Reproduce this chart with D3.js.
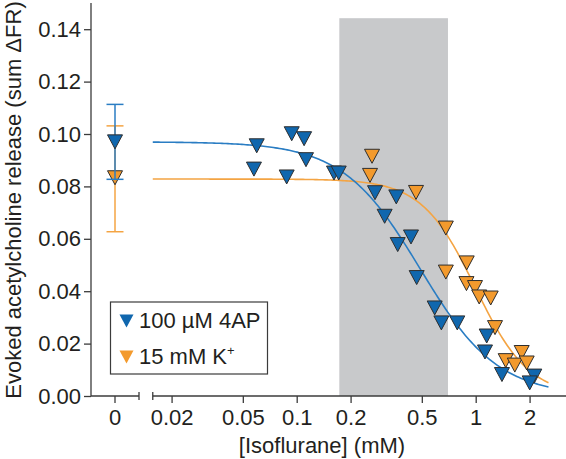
<!DOCTYPE html>
<html>
<head>
<meta charset="utf-8">
<script src="https://cdn.jsdelivr.net/npm/d3@7"></script>
<style>
  html, body { margin: 0; padding: 0; background: #fff; }
  svg { display: block; }
  text { font-family: "Liberation Sans", Arial, Helvetica, sans-serif; fill: #231f20; }
</style>
</head>
<body>
<svg id="chart" width="566" height="459"></svg>
<script>
// ---------- data ----------
const seriesNames = ["100 µM 4AP", "15 mM K"];
const xTickValues = [0.02, 0.05, 0.1, 0.2, 0.5, 1, 2];
const xTickLabels = ["0.02", "0.05", "0.1", "0.2", "0.5", "1", "2"];
const yTickValues = [0, 0.02, 0.04, 0.06, 0.08, 0.10, 0.12, 0.14];

// 4AP (blue) data points: [Isoflurane] mM, release
const blueConc = [0.0598, 0.0577, 0.0879, 0.0938, 0.110, 0.1127, 0.1616, 0.1717, 0.2738, 0.360, 0.310,
                  0.435, 0.3667, 0.468, 0.590, 0.643, 0.789, 1.152, 1.127, 1.402, 2.125, 2.003];
const blueRelease = [0.0955, 0.0866, 0.0836, 0.1001, 0.0982, 0.0902, 0.0851, 0.0851, 0.0776, 0.0760, 0.0686,
                     0.0607, 0.0578, 0.0452, 0.0336, 0.0279, 0.0279, 0.0229, 0.0168, 0.0082, 0.0076, 0.0050];

// K+ (orange) data points
const orangeConc = [0.2635, 0.2568, 0.464, 0.681, 0.681, 0.891, 0.888, 0.991, 1.046, 1.213, 1.282,
                    1.471, 1.654, 1.807, 1.927];
const orangeRelease = [0.0915, 0.0842, 0.0777, 0.0641, 0.0473, 0.0508, 0.0429, 0.0414, 0.0378, 0.0374, 0.0261,
                       0.0135, 0.0118, 0.0166, 0.0126];

// control (0 mM) mean and error-bar limits: [blue, orange]
const controlMean = [0.0970, 0.0833];
const controlLow  = [0.0827, 0.0627];
const controlHigh = [0.1113, 0.1031];

// Hill-fit parameters: [blue, orange]
const fitTop  = [0.0970, 0.0828];
const fitIC50 = [0.49, 0.995];
const fitHill = [2.0, 2.9];
const fitRange = [0.0157, 2.55];

// clinically relevant shaded range (mM) and its top (release units)
const bandRange = [0.173, 0.70];
const bandTop = 0.1442;

// ---------- layout ----------
const colors = { blue: "#1067ae", orange: "#f39a2d", blueLine: "#2a7dc3", orangeLine: "#f4a443",
                 axis: "#3b3b3b", band: "#c8c9cb", edge: "#2e2e2e" };
const svg = d3.select("#chart");

const x = d3.scaleLog().domain([0.01, 10]).range([117.7, 654.7]);
const y = d3.scaleLinear().domain([0, 0.14]).range([396, 29.2]);
const xZero = 115;
const axisX = 91;
const axisY = 396;

// shaded band
svg.append("rect")
  .attr("x", x(bandRange[0])).attr("y", y(bandTop))
  .attr("width", x(bandRange[1]) - x(bandRange[0]))
  .attr("height", y(0) - y(bandTop))
  .attr("fill", colors.band);

// ---------- axes ----------
const yAxis = d3.axisLeft(y).tickValues(yTickValues).tickFormat(d3.format(".2f")).tickSize(7).tickPadding(3);
const gy = svg.append("g").attr("transform", `translate(${axisX},0)`).call(yAxis);
gy.select(".domain").remove();
gy.append("line").attr("x1", 0).attr("x2", 0).attr("y1", 3).attr("y2", axisY)
  .attr("stroke", colors.axis).attr("stroke-width", 1.3);
gy.selectAll(".tick line").attr("stroke", colors.axis).attr("stroke-width", 1.3);
gy.selectAll(".tick text").attr("font-size", 22).attr("font-family", "Liberation Sans, Arial, sans-serif").attr("fill", "#231f20");

// x axis: log part
const xAxis = d3.axisBottom(x).tickValues(xTickValues).tickFormat((d, i) => xTickLabels[i]).tickSize(7).tickPadding(6);
const gx = svg.append("g").attr("transform", `translate(0,${axisY})`).call(xAxis);
gx.select(".domain").remove();
gx.selectAll(".tick line").attr("stroke", colors.axis).attr("stroke-width", 1.3);
gx.selectAll(".tick text").attr("font-size", 22).attr("font-family", "Liberation Sans, Arial, sans-serif").attr("fill", "#231f20");

// axis segments (broken axis)
const segs = [[axisX, 139], [x(fitRange[0]), 566]];
segs.forEach(s => {
  svg.append("line").attr("x1", s[0]).attr("x2", s[1]).attr("y1", axisY).attr("y2", axisY)
    .attr("stroke", colors.axis).attr("stroke-width", 1.3);
});
[139, x(fitRange[0])].forEach(px => {
  svg.append("line").attr("x1", px).attr("x2", px).attr("y1", axisY - 4).attr("y2", axisY + 4)
    .attr("stroke", colors.axis).attr("stroke-width", 1.3);
});
// zero tick
svg.append("line").attr("x1", xZero).attr("x2", xZero).attr("y1", axisY).attr("y2", axisY + 7)
  .attr("stroke", colors.axis).attr("stroke-width", 1.3);
svg.append("text").attr("x", xZero).attr("y", axisY + 29).attr("text-anchor", "middle")
  .attr("font-size", 22).text("0");

// axis titles
svg.append("text").attr("x", 322).attr("y", 453).attr("text-anchor", "middle")
  .attr("font-size", 22).text("[Isoflurane] (mM)");
svg.append("text").attr("transform", "translate(21,200) rotate(-90)").attr("text-anchor", "middle")
  .attr("font-size", 22).text("Evoked acetylcholine release (sum \u0394FR)");

// ---------- fitted curves ----------
const fitColors = [colors.blueLine, colors.orangeLine];
const logSpan = d3.range(0, 201).map(i => Math.exp(Math.log(fitRange[0]) + i / 200 * (Math.log(fitRange[1]) - Math.log(fitRange[0]))));
const line = d3.line().x(d => x(d[0])).y(d => y(d[1])).curve(d3.curveLinear);
[1, 0].forEach(k => {
  const pts = logSpan.map(c => [c, fitTop[k] / (1 + Math.pow(c / fitIC50[k], fitHill[k]))]);
  svg.append("path").attr("d", line(pts)).attr("fill", "none")
    .attr("stroke", fitColors[k]).attr("stroke-width", 1.6);
});

// ---------- markers ----------
const tri = "M-7.5,-7L7.5,-7L0,7Z";
const fills = [colors.blue, colors.orange];

// control error bars + markers (orange first, then blue)
[1, 0].forEach(k => {
  const g = svg.append("g");
  g.append("line").attr("x1", xZero).attr("x2", xZero).attr("y1", y(controlLow[k])).attr("y2", y(controlHigh[k]))
    .attr("stroke", fitColors[k]).attr("stroke-width", 1.5);
  [controlLow[k], controlHigh[k]].forEach(v => {
    g.append("line").attr("x1", xZero - 8.5).attr("x2", xZero + 8.5).attr("y1", y(v)).attr("y2", y(v))
      .attr("stroke", fitColors[k]).attr("stroke-width", 1.5);
  });
  g.append("path").attr("d", tri).attr("transform", `translate(${xZero},${y(controlMean[k])})`)
    .attr("fill", fills[k]).attr("stroke", colors.edge).attr("stroke-width", 1);
});

const orangeData = orangeConc.map((c, i) => [c, orangeRelease[i]]);
const blueData = blueConc.map((c, i) => [c, blueRelease[i]]);
svg.append("g").selectAll("path").data(orangeData).join("path")
  .attr("d", tri).attr("transform", d => `translate(${x(d[0])},${y(d[1])})`)
  .attr("fill", colors.orange).attr("stroke", colors.edge).attr("stroke-width", 1);
svg.append("g").selectAll("path").data(blueData).join("path")
  .attr("d", tri).attr("transform", d => `translate(${x(d[0])},${y(d[1])})`)
  .attr("fill", colors.blue).attr("stroke", colors.edge).attr("stroke-width", 1);

// ---------- legend ----------
const lg = svg.append("g");
lg.append("rect").attr("x", 110.5).attr("y", 302).attr("width", 157).attr("height", 72)
  .attr("fill", "#fff").attr("stroke", colors.axis).attr("stroke-width", 1.2);
const legendY = [321, 357];
seriesNames.forEach((name, i) => {
  lg.append("path").attr("d", "M-7,-6.5L7,-6.5L0,6.5Z").attr("transform", `translate(126.5,${legendY[i]})`)
    .attr("fill", fills[i]);
  const t = lg.append("text").attr("x", 139).attr("y", legendY[i] + 6.5).attr("font-size", 22).text(name);
  if (i === 1) t.append("tspan").attr("font-size", 13).attr("dy", -9).text("+");
});
</script>
</body>
</html>
